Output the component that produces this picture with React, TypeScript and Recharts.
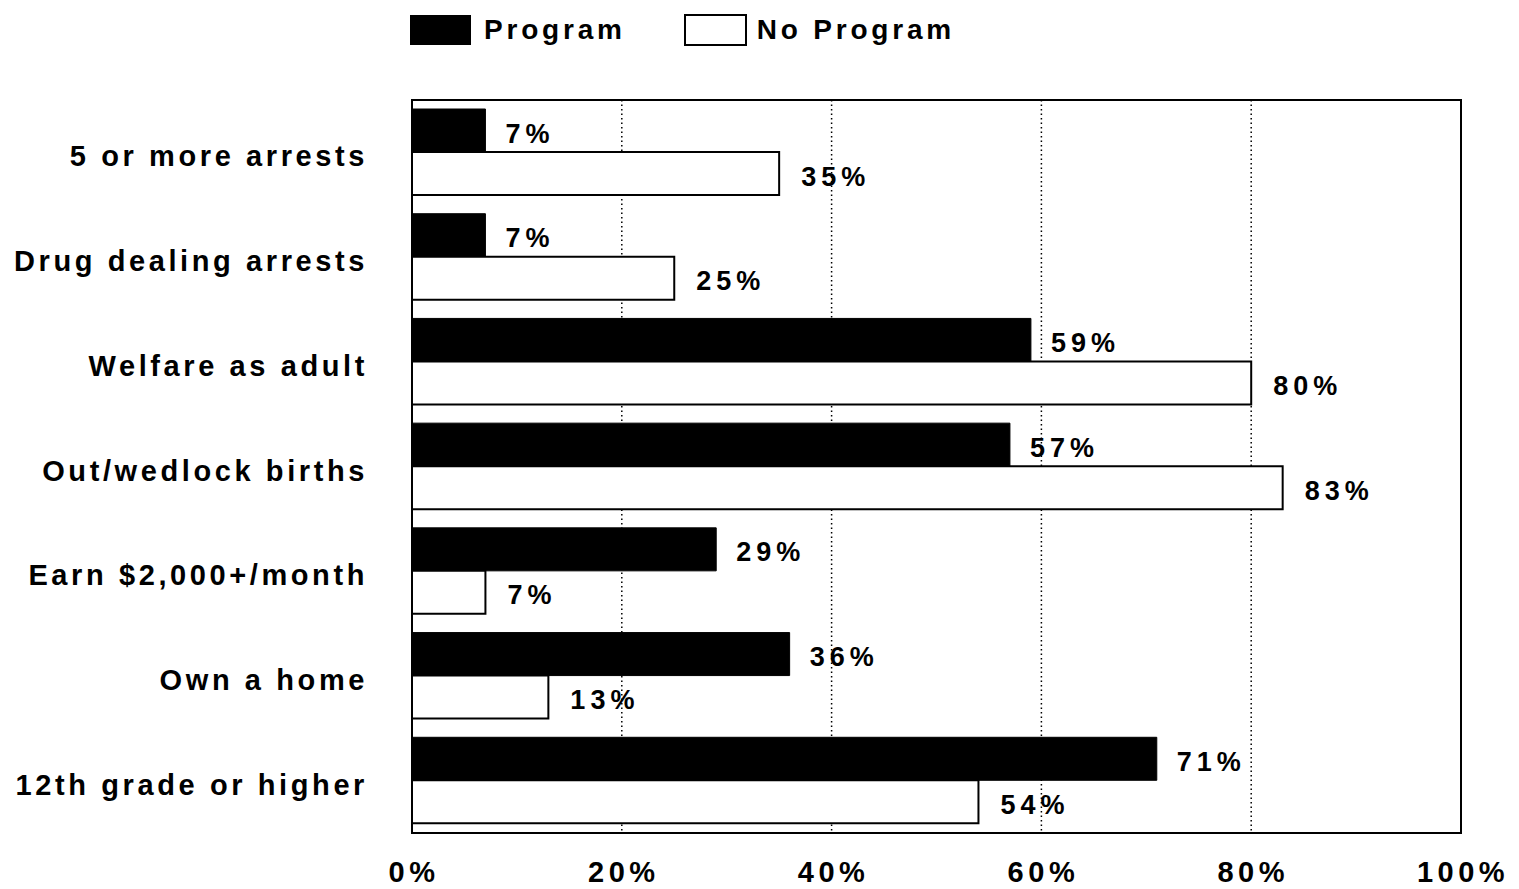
import React from 'react'
import {
    Bar,
    BarChart,
    CartesianGrid,
    LabelList,
    ReferenceArea,
    XAxis,
    YAxis,
} from 'recharts'

const categories = [
    '5 or more arrests',
    'Drug dealing arrests',
    'Welfare as adult',
    'Out/wedlock births',
    'Earn $2,000+/month',
    'Own a home',
    '12th grade or higher',
]
const programValues = [7, 7, 59, 57, 29, 36, 71]
const noProgramValues = [35, 25, 80, 83, 7, 13, 54]
const xTicks = [0, 20, 40, 60, 80, 100]
const seriesNames = ['Program', 'No Program']

const FONT = "'Liberation Sans', Arial, sans-serif"

const data = categories.map((name, i) => ({
    name,
    program: programValues[i],
    noProgram: noProgramValues[i],
}))

function XTick({ x, y, payload }: any) {
    return (
        <text
            x={x + 2}
            y={y + 37}
            textAnchor='middle'
            dominantBaseline='central'
            fontFamily={FONT}
            fontWeight='bold'
            fontSize={29}
            letterSpacing={4.5}
            fill='#000'
        >
            {payload.value}%
        </text>
    )
}

function YTick({ x, y, payload }: any) {
    return (
        <text
            x={x + 2}
            y={y + 4}
            textAnchor='end'
            dominantBaseline='central'
            fontFamily={FONT}
            fontWeight='bold'
            fontSize={29}
            letterSpacing={3.6}
            fill='#000'
        >
            {payload.value}
        </text>
    )
}

// value label right of the bar, a bit below its middle like the print
function valueLabel(offset: number) {
    return (props: any) => {
        const { x, y, width, height, value } = props
        return (
            <text
                x={x + width + offset}
                y={y + height / 2 + 3}
                dominantBaseline='central'
                fontFamily={FONT}
                fontWeight='bold'
                fontSize={27}
                letterSpacing={5}
                fill='#000'
            >
                {value}%
            </text>
        )
    }
}

function Legend() {
    const box = (filled: boolean) => ({
        display: 'inline-block',
        width: filled ? 61 : 59,
        height: filled ? 30 : 28,
        background: filled ? '#000' : '#fff',
        border: filled ? 'none' : '2px solid #000',
    })
    const txt = {
        fontFamily: FONT,
        fontWeight: 'bold' as const,
        fontSize: 28,
        letterSpacing: 3.8,
        color: '#000',
        marginLeft: 13,
    }
    return (
        <div
            style={{
                position: 'absolute',
                left: 410,
                top: 10,
                display: 'flex',
                alignItems: 'center',
                height: 40,
            }}
        >
            <span style={box(true)} />
            <span style={txt}>{seriesNames[0]}</span>
            <span style={{ ...box(false), marginLeft: 58 }} />
            <span style={{ ...txt, marginLeft: 10 }}>{seriesNames[1]}</span>
        </div>
    )
}

export default function App() {
    return (
        <div
            style={{
                position: 'absolute',
                left: 0,
                top: 0,
                width: 1519,
                height: 889,
                background: '#fff',
            }}
        >
            <Legend />
            <BarChart
                width={1519}
                height={889}
                data={data}
                layout='vertical'
                margin={{ top: 100, right: 58, bottom: 6, left: 12 }}
                barCategoryGap={9}
                barGap={0}
            >
                <CartesianGrid
                    horizontal={false}
                    stroke='#000'
                    strokeWidth={1.5}
                    strokeDasharray='1.5 3'
                />
                <XAxis
                    type='number'
                    domain={[0, 100]}
                    ticks={xTicks}
                    axisLine={false}
                    tickLine={false}
                    tickSize={0}
                    height={50}
                    tick={<XTick />}
                />
                <YAxis
                    type='category'
                    dataKey='name'
                    width={400}
                    axisLine={false}
                    tickLine={false}
                    tickSize={0}
                    tickMargin={46}
                    tick={<YTick />}
                />
                <Bar
                    dataKey='program'
                    name={seriesNames[0]}
                    fill='#000'
                    stroke='#000'
                    strokeWidth={1}
                    isAnimationActive={false}
                >
                    <LabelList dataKey='program' content={valueLabel(20)} />
                </Bar>
                <Bar
                    dataKey='noProgram'
                    name={seriesNames[1]}
                    fill='#fff'
                    stroke='#000'
                    strokeWidth={2}
                    isAnimationActive={false}
                >
                    <LabelList dataKey='noProgram' content={valueLabel(22)} />
                </Bar>
                <ReferenceArea
                    x1={0}
                    x2={100}
                    fill='none'
                    fillOpacity={0}
                    stroke='#000'
                    strokeWidth={2}
                    ifOverflow='visible'
                />
            </BarChart>
        </div>
    )
}
